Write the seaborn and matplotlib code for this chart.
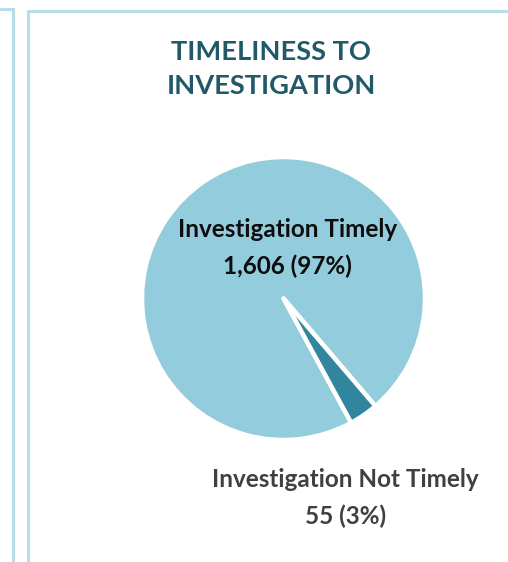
import matplotlib
matplotlib.use("Agg")
import matplotlib.pyplot as plt
import seaborn as sns
from matplotlib.lines import Line2D

# data
categories = ["Investigation Timely", "Investigation Not Timely"]
counts = [1606, 55]
slice_colors = ["#93CDDD", "#31859C"]
title = "TIMELINESS TO\nINVESTIGATION"

sns.set_style("white")
plt.rcParams['font.family'] = ['Lato', 'DejaVu Sans']

fig = plt.figure(figsize=(5.08, 5.62), dpi=100)
W, H = 508, 562

# panel borders (light blue frames)
border = "#B7DEE8"
def fline(xs, ys):
    fig.add_artist(Line2D([x / W for x in xs], [1 - y / H for y in ys],
                          color=border, lw=2.2, transform=fig.transFigure))
fline([0, 13], [8.5, 8.5])
fline([13, 13], [8.5, H])
fline([28, 28], [10.5, H])
fline([28, W], [10.5, 10.5])

# pie axes
cx, cy, r = 283.5, 298.5, 141.5
ax = fig.add_axes([(cx - r) / W, 1 - (cy + r) / H, 2 * r / W, 2 * r / H])
wedges, _ = ax.pie(counts, colors=slice_colors, startangle=-49.5, counterclock=True,
                   wedgeprops=dict(edgecolor="white", linewidth=3.2, joinstyle="round"))
ax.set_xlim(-1, 1)
ax.set_ylim(-1, 1)
ax.set_aspect("auto")
ax.axis("off")

total = sum(counts)
labels = [f"{c}\n{v:,} ({v / total * 100:.0f}%)" for c, v in zip(categories, counts)]
ax.text(0.03, 0.357, labels[0], ha="center", va="center", fontsize=17.5,
        fontweight="bold", color="#0D0D0D", linespacing=1.65)
ax.text(0.44, -1.41, labels[1], ha="center", va="center", fontsize=17.5,
        fontweight="bold", color="#404040", linespacing=1.65, clip_on=False)

fig.text(271 / W, 1 - 69.5 / H, title, ha="center", va="center", fontsize=19.6,
         fontweight="bold", color="#215968", linespacing=1.5)

fig.savefig("out.png", dpi=100, facecolor="white")
